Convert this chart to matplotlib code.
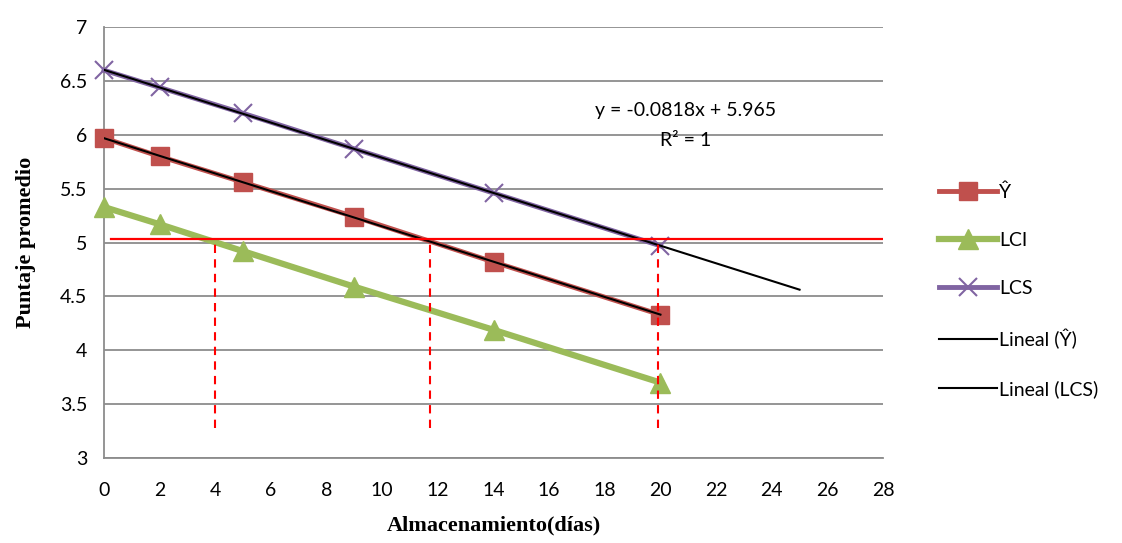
import matplotlib
matplotlib.use("Agg")
import matplotlib.pyplot as plt
import numpy as np

dias = [0, 2, 5, 9, 14, 20]
y_hat = [5.97, 5.80, 5.56, 5.24, 4.82, 4.33]
lci = [5.33, 5.17, 4.92, 4.59, 4.19, 3.70]
lcs = [6.60, 6.44, 6.20, 5.87, 5.46, 4.97]
limite = 5.03
cortes = [4.0, 11.7, 19.9]
x_ticks = list(range(0, 29, 2))
y_ticks = [3, 3.5, 4, 4.5, 5, 5.5, 6, 6.5, 7]

plt.rcParams['font.family'] = ['Lato', 'DejaVu Sans']

fig = plt.figure(figsize=(11.22, 5.43), dpi=100)
ax = fig.add_axes([0.0927, 0.1565, 0.6943, 0.7935])

for yv in y_ticks:
    ax.axhline(yv, color='#8c8c8c', lw=1.3, zorder=0)

red = '#C0504D'
green = '#9BBB59'
purple = '#8064A2'

ax.plot(dias, y_hat, color=red, lw=3.5, marker='s', ms=13, label='Ŷ', zorder=3, clip_on=False)
ax.plot(dias, lci, color=green, lw=4.5, marker='^', ms=14, label='LCI', zorder=3, clip_on=False)
ax.plot(dias, lcs, color=purple, lw=3.5, marker='x', ms=13, mew=1.5, label='LCS', zorder=3, clip_on=False)

# linear trends
c1 = np.polyfit(dias, y_hat, 1)
xt1 = np.array([0, 20])
ax.plot(xt1, np.polyval(c1, xt1), color='black', lw=1.5, label='Lineal (Ŷ)', zorder=4)
c2 = np.polyfit(dias, lcs, 1)
xt2 = np.array([0, 25])
ax.plot(xt2, np.polyval(c2, xt2), color='black', lw=1.5, label='Lineal (LCS)', zorder=4)

ax.plot([0.25, 28], [limite, limite], color='#ff0000', lw=1.6, zorder=5)
for xc in cortes:
    ax.plot([xc, xc], [3.28, limite], color='#ff0000', lw=1.5, ls=(0, (4, 3)), zorder=5)

ax.text(20.9, 6.23, 'y = -0.0818x + 5.965', ha='center', va='center', fontsize=14)
ax.text(20.9, 5.95, 'R² = 1', ha='center', va='center', fontsize=14)

ax.set_xlim(0, 28)
ax.set_ylim(3, 7)
ax.set_xticks(x_ticks)
ax.set_yticks(y_ticks)
ax.set_yticklabels([f'{v:g}' for v in y_ticks])
ax.tick_params(length=0, labelsize=14)
ax.tick_params(axis='x', pad=17)
ax.tick_params(axis='y', pad=12)
for s in ['top', 'right']:
    ax.spines[s].set_visible(False)
for s in ['left', 'bottom']:
    ax.spines[s].set_color('#8c8c8c')
    ax.spines[s].set_linewidth(1.3)

ax.set_xlabel('Almacenamiento(días)', family='Liberation Serif', fontweight='bold', fontsize=16, labelpad=12)
ax.set_ylabel('Puntaje promedio', family='Liberation Serif', fontweight='bold', fontsize=16, labelpad=17)

leg = ax.legend(loc='upper left', bbox_to_anchor=(1.062, 0.655), frameon=False, fontsize=14,
                handlelength=3.0, labelspacing=1.6, handletextpad=0.1, borderaxespad=0)

fig.savefig('out.png', dpi=100)
